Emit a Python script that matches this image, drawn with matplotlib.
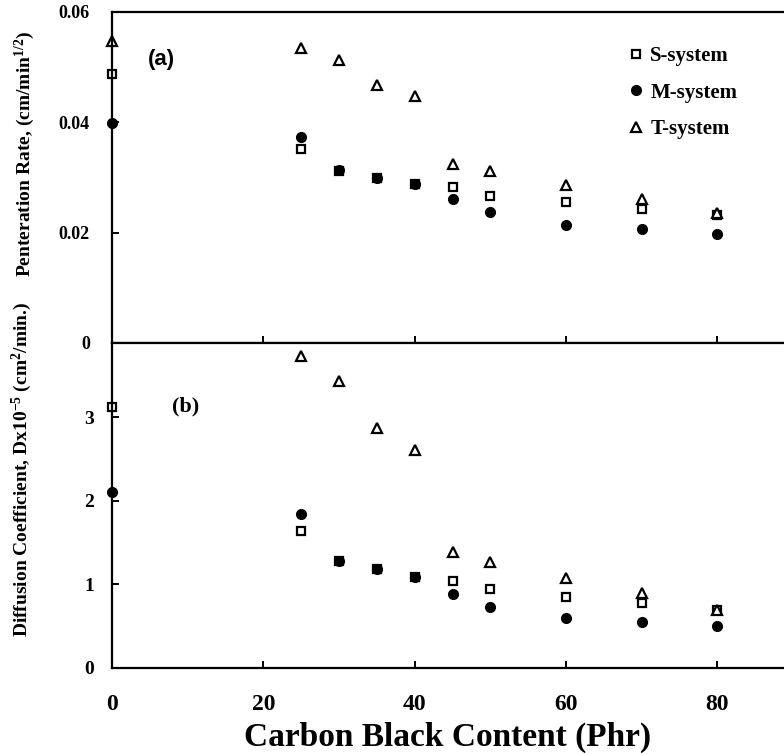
import matplotlib
matplotlib.use("Agg")
import matplotlib.pyplot as plt

# ---- data ----
x_all = [0, 25, 30, 35, 40, 45, 50, 60, 70, 80]

# (a) penetration rate
rate_S = [0.0488, 0.0351, 0.0312, 0.0299, 0.0288, 0.0282, 0.0267, 0.0256, 0.0243, 0.0232]
rate_M = [0.0399, 0.0374, 0.0313, 0.0299, 0.0288, 0.0261, 0.0238, 0.0214, 0.0207, 0.0198]
rate_T = [0.0548, 0.0535, 0.0513, 0.0468, 0.0447, 0.0325, 0.0311, 0.0286, 0.0261, 0.0236]

# (b) diffusion coefficient
x_b_SM = [0, 25, 30, 35, 40, 45, 50, 60, 70, 80]
diff_S = [3.12, 1.64, 1.28, 1.18, 1.08, 1.04, 0.94, 0.85, 0.78, 0.69]
diff_M = [2.11, 1.84, 1.28, 1.18, 1.08, 0.88, 0.73, 0.60, 0.55, 0.50]
x_b_T = [25, 30, 35, 40, 45, 50, 60, 70, 80]
diff_T = [3.73, 3.44, 2.87, 2.61, 1.39, 1.26, 1.07, 0.89, 0.69]

series_names = ["S-system", "M-system", "T-system"]
x_ticks = [0, 20, 40, 60, 80]
y_ticks_a = [0, 0.02, 0.04, 0.06]
y_ticklabels_a = ["0", "0.02", "0.04", "0.06"]
y_ticks_b = [0, 1, 2, 3]

plt.rcParams['font.family'] = ['Liberation Serif', 'DejaVu Serif']
plt.rcParams['font.weight'] = 'bold'
plt.rcParams['mathtext.fontset'] = 'custom'
plt.rcParams['mathtext.rm'] = 'Liberation Serif:bold'
plt.rcParams['mathtext.it'] = 'Liberation Serif:bold'
plt.rcParams['mathtext.bf'] = 'Liberation Serif:bold'

fig = plt.figure(figsize=(7.84, 7.54), dpi=100)
L = 112 / 784
axA = fig.add_axes([L, 1 - 343 / 754, 1 - L, (343 - 12) / 754])
axB = fig.add_axes([L, 1 - 667.6 / 754, 1 - L, (667.6 - 343) / 754])

def style(ax):
    for s in ['left', 'top', 'bottom']:
        ax.spines[s].set_linewidth(1.6)
    ax.spines['right'].set_visible(False)
    ax.tick_params(direction='in', length=5, width=1.4)
    ax.set_xlim(0, 88.8)
    ax.set_xticks(x_ticks)

mkw = dict(linestyle='none', clip_on=False, color='black')

# panel (a)
axA.plot(x_all, rate_S, marker='s', ms=6, mfc='white', mew=1.6, label=series_names[0], **mkw)
axA.plot(x_all, rate_M, marker='o', ms=7, label=series_names[1], **mkw)
axA.plot(x_all, rate_T, marker='^', ms=7, mfc='white', mew=1.6, label=series_names[2], **mkw)
style(axA)
axA.set_ylim(0, 0.06)
axA.set_yticks(y_ticks_a)
axA.set_yticklabels(y_ticklabels_a, fontsize=13, fontweight='bold')
axA.tick_params(axis='y', pad=16)
axA.tick_params(axis='x', labelbottom=False)
axA.set_ylabel("Penteration Rate, (cm/min$^{1/2}$)", fontsize=14, fontweight='bold')
axA.yaxis.set_label_coords(-0.112, 0.571)
axA.text(0.054, 0.84, "(a)", transform=axA.transAxes, fontsize=16, fontweight='bold',
         family='Liberation Sans')
axA.legend(loc='upper left', bbox_to_anchor=(0.764, 0.897), frameon=False,
           prop={'size': 15, 'weight': 'bold'}, handletextpad=0.2, labelspacing=0.8,
           handlelength=1.0, borderpad=0, borderaxespad=0)

# panel (b)
axB.plot(x_b_SM, diff_S, marker='s', ms=6, mfc='white', mew=1.6, **mkw)
axB.plot(x_b_SM, diff_M, marker='o', ms=7, **mkw)
axB.plot(x_b_T, diff_T, marker='^', ms=7, mfc='white', mew=1.6, **mkw)
style(axB)
axB.set_ylim(0, 3.89)
axB.set_yticks(y_ticks_b)
axB.set_yticklabels([str(v) for v in y_ticks_b], fontsize=14, fontweight='bold')
axB.tick_params(axis='y', pad=13)
axB.set_xticklabels([str(v) for v in x_ticks], fontsize=17, fontweight='bold')
axB.tick_params(axis='x', pad=19)
axB.set_ylabel("Diffusion Coefficient, Dx10$^{-5}$ (cm$^{2}$/min.)", fontsize=14,
               fontweight='bold')
axB.yaxis.set_label_coords(-0.116, 0.612)
axB.set_xlabel("Carbon Black Content (Phr)", fontsize=24, fontweight='bold', labelpad=5)
axB.text(0.09, 0.79, "(b)", transform=axB.transAxes, fontsize=16, fontweight='bold')

fig.savefig("out.png", dpi=100)
